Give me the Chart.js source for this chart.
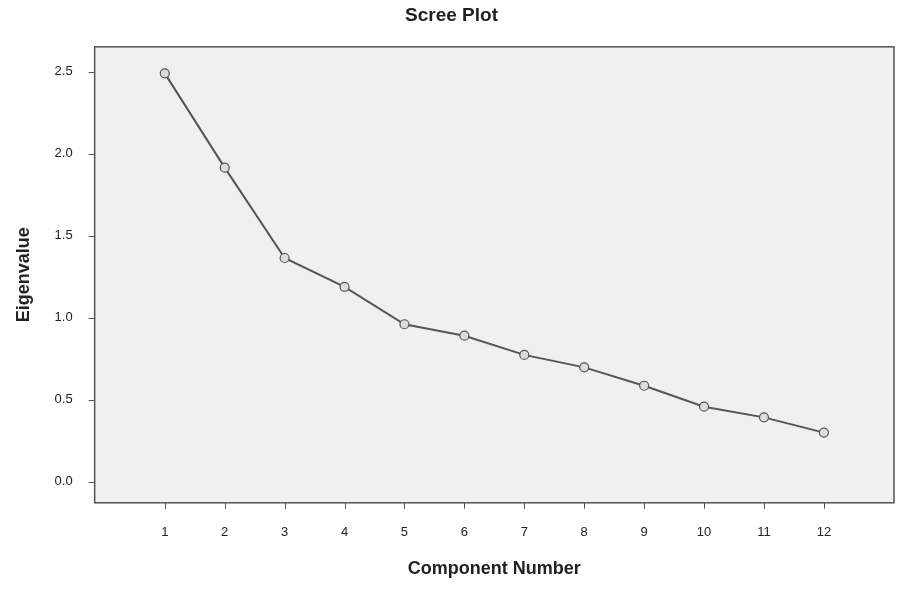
<!DOCTYPE html>
<html>
<head>
<meta charset="utf-8">
<script src="https://cdn.jsdelivr.net/npm/chart.js@4"></script>
<style>
  html, body { margin: 0; padding: 0; background: #fff; }
  #wrap { width: 900px; height: 593px; }
</style>
</head>
<body>
<div id="wrap"><canvas id="scree"></canvas></div>
<script>
const components = [1, 2, 3, 4, 5, 6, 7, 8, 9, 10, 11, 12];
const eigenvalues = [2.49, 1.915, 1.364, 1.188, 0.96, 0.89, 0.773, 0.697, 0.585, 0.457, 0.392, 0.299];
const yTicks = [0.0, 0.5, 1.0, 1.5, 2.0, 2.5];

// 绘图区背景、边框和刻度线
const plotBg = {
    id: 'plotBg',
    beforeDraw(chart) {
        const { ctx, chartArea: a } = chart;
        ctx.save();
        ctx.fillStyle = '#f0f0f0';
        ctx.fillRect(a.left, a.top, a.right - a.left, a.bottom - a.top);
        ctx.restore();
    },
    afterDraw(chart) {
        const { ctx, chartArea: a, scales } = chart;
        ctx.save();
        ctx.strokeStyle = '#555';
        ctx.lineWidth = 1.5;
        ctx.strokeRect(a.left, a.top, a.right - a.left, a.bottom - a.top);
        ctx.lineWidth = 1;
        ctx.beginPath();
        components.forEach(v => {
            const x = Math.round(scales.x.getPixelForValue(v)) + 0.5;
            ctx.moveTo(x, a.bottom); ctx.lineTo(x, a.bottom + 6);
        });
        yTicks.forEach(v => {
            const y = Math.round(scales.y.getPixelForValue(v)) + 0.5;
            ctx.moveTo(a.left, y); ctx.lineTo(a.left - 6, y);
        });
        ctx.stroke();
        ctx.restore();
    }
};

new Chart(document.getElementById('scree'), {
    type: 'scatter',
    data: {
        datasets: [{
            data: components.map((c, i) => ({ x: c, y: eigenvalues[i] })),
            showLine: true,
            borderColor: '#555',
            borderWidth: 2,
            pointRadius: 4.5,
            pointBorderWidth: 1.2,
            pointBorderColor: '#555',
            pointBackgroundColor: '#dcdcdc'
        }]
    },
    options: {
        responsive: true,
        maintainAspectRatio: false,
        animation: false,
        layout: { padding: { top: 0, right: 6, bottom: 9, left: 9 } },
        plugins: {
            legend: { display: false },
            tooltip: { enabled: false },
            title: {
                display: true,
                text: 'Scree Plot',
                color: '#222',
                font: { family: 'Liberation Sans', size: 19, weight: 'bold' },
                padding: { top: 4, bottom: 20 }
            }
        },
        scales: {
            x: {
                type: 'linear',
                min: -0.17,
                max: 13.17,
                afterBuildTicks(axis) { axis.ticks = components.map(v => ({ value: v })); },
                grid: { display: false },
                border: { display: false },
                ticks: { color: '#222', font: { family: 'Liberation Sans', size: 13 }, padding: 14 },
                title: {
                    display: true, text: 'Component Number', color: '#222',
                    font: { family: 'Liberation Sans', size: 18, weight: 'bold' }, padding: { top: 4 }
                }
            },
            y: {
                min: -0.129,
                max: 2.652,
                afterBuildTicks(axis) { axis.ticks = yTicks.map(v => ({ value: v })); },
                grid: { display: false },
                border: { display: false },
                ticks: { color: '#222', font: { family: 'Liberation Sans', size: 13 }, padding: 14,
                         callback: v => v.toFixed(1) },
                title: {
                    display: true, text: 'Eigenvalue', color: '#222',
                    font: { family: 'Liberation Sans', size: 18, weight: 'bold' }, padding: { bottom: 6 }
                }
            }
        }
    },
    plugins: [plotBg]
});
</script>
</body>
</html>
